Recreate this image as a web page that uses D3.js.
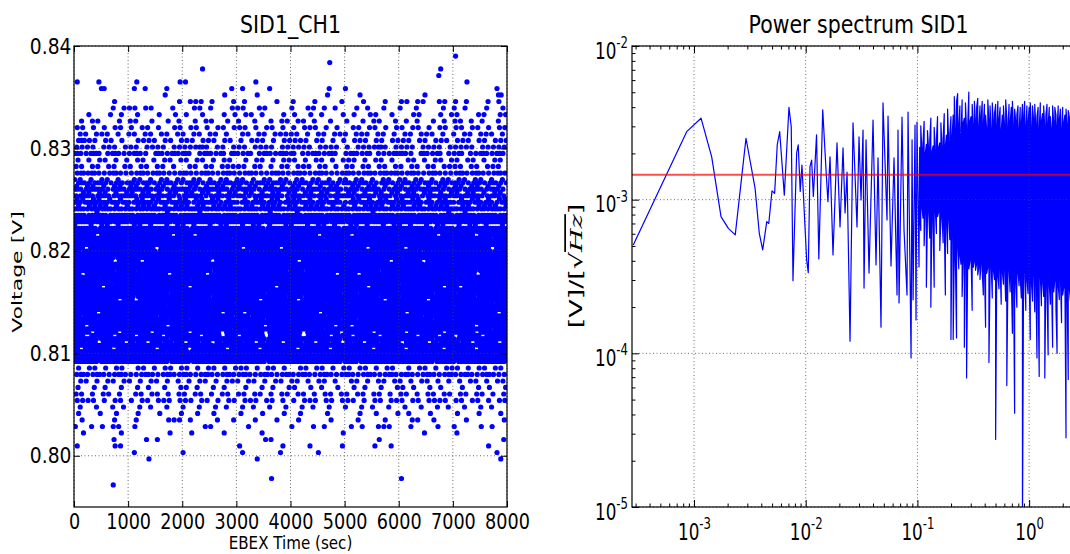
<!DOCTYPE html>
<html>
<head>
<meta charset="utf-8">
<script src="https://cdn.jsdelivr.net/npm/d3@7"></script>
<style>
  body { margin: 0; background: #fff; }
  text { font-family: "DejaVu Sans", sans-serif; fill: #000; }
</style>
</head>
<body>
<div id="chart"></div>
<script>
// ---------- left panel data: quantised voltage levels and samples per 100 s bin ----------
var binSec = 100;
var xTicks = [0, 1000, 2000, 3000, 4000, 5000, 6000, 7000, 8000];
var yTicks = [0.80, 0.81, 0.82, 0.83, 0.84];

// sparse rows above the dense band
var topLevels = [0.83902, 0.83839, 0.83776, 0.83712, 0.83649, 0.83585, 0.83522, 0.83458, 0.83395, 0.83331,
                 0.83268, 0.83204, 0.83141, 0.83078, 0.83014, 0.82951, 0.82887, 0.82824, 0.82760];
var topCounts = [
  "0000000000 0000000000 0000000000 0000000000 0000000000 0000000000 0000000000 1000000000",
  "0000000000 0000000000 0000000000 0000000000 0000000100 0000000000 0000000000 0000000000",
  "0000000000 0000000000 0001000000 0000000000 0000000000 0000000000 0000000100 0000000000",
  "0000000000 0000000000 0000000000 0000000000 0000000000 0000000000 0000000100 0000000000",
  "1000100000 0100000001 1000000000 0001000000 0000000000 0000000000 0000000000 0010000000",
  "0000020000 0101000100 0000000001 0100001000 0000000100 1000000000 0000000000 0000000010",
  "0000000000 0000001000 0000000100 0001000000 0000001000 0010000000 0000100000 0000000020",
  "0000000100 0000000001 0111010001 0100000100 1000100001 0001000100 1101100110 1010001010",
  "0000000101 1101100010 0011010001 1100110000 1001101010 0010100100 1001000010 1010001001",
  "0010001010 0100010010 1001000101 0110100010 1001010001 0100110010 0011000101 1000110011",
  "0101100010 1100100101 0010110010 1001001011 0110100100 1001011001 0101001010 1101010010",
  "1101010110 1011010011 0110101101 1101011010 1011101010 0110110101 1011010110 1101101011",
  "0110111010 1101101101 1011011010 0110110111 1101011011 1011101101 0110111010 1011011101",
  "1211011010 0111101101 1101110110 1011101011 1110110101 0111011011 1101101110 1110110111",
  "1111011101 1101111011 1112101101 1101111011 1111011110 1011112101 1110111101 1111011111",
  "2112201211 1211021121 2101211202 1120121121 2011211210 1211201112 2110211201 1201121121",
  "1010110101 0110101101 1011010110 0101101011 1010110101 1101011010 0110101101 1011010110",
  "1101101101 1011011010 0110110111 1101101011 0111011010 1101101101 1011011011 1101101110",
  "1212111211 1121121111 2111211121 1121111211 1211121111 2111211212 1121112111 1211211121"
];

// dense band (half-step levels)
var full1 = "2222122222 2222222122 2122222222 2222212222 2222222221 2212222222 2222221222 1222222222";
var full2 = "2222222122 2122222222 2222212222 2222222221 2212222222 2222221222 1222222222 2222122222";
var full3 = "2122222222 2222212222 2222222221 2212222222 2222221222 1222222222 2222122222 2222222122";
var bandLevels = [0.82697, 0.82665, 0.82633, 0.82602, 0.82570, 0.82538, 0.82507, 0.82475, 0.82443, 0.82411,
                  0.82380, 0.82348, 0.82316, 0.82285, 0.82253, 0.82221, 0.82189, 0.82158, 0.82126, 0.82094,
                  0.82063, 0.82031, 0.81999, 0.81967, 0.81936, 0.81904, 0.81872, 0.81841, 0.81809, 0.81777,
                  0.81745, 0.81714, 0.81682, 0.81650, 0.81619, 0.81587, 0.81555, 0.81523, 0.81492, 0.81460,
                  0.81428, 0.81397, 0.81365, 0.81333, 0.81301, 0.81270, 0.81238, 0.81206, 0.81175, 0.81143,
                  0.81111, 0.81079, 0.81048, 0.81016, 0.80984, 0.80953, 0.80921];
var bandCounts = [
  "1101011010 0110101101 1011010110 1101011011 0110110101 1011010110 1101101011 0110110101",
  "1211211121 2112111211 1211121121 2111211211 1121112111 2112111211 1211121121 2111211211",
  "1011010110 1101011010 0110101101 1011011010 1101010110 0110110101 1011010110 1101101010",
  "2112211121 1212121112 2111221211 1221112121 2111211221 1211221112 1121212111 2112211211",
  "0110110101 1011010110 1101101011 0110101101 1011011010 1101011011 0110110101 1011010110",
  "1221121122 2112121211 1221112121 2111221211 1212121122 2112211211 1221112121 2121211211",
  "1101101010 0110110101 1011011010 0101101101 1101011010 0110101101 1011010110 0101101011",
  "2122121212 1222112121 2112221122 1212212112 2122121221 1212212121 2212121122 1221212112",
  "1011110101 0111101011 1011011110 0110111101 1011110101 0101111011 1011011110 0110111101",
  "2212122121 2121221212 1221212122 2122121221 2212122121 2121221212 1221212122 2122121221",
  "0000100000 0000000100 0001000000 0000001000 0100000000 0000010000 0000000001 0010000000",
  "2212221222 2122212221 2221222122 1222122212 2212221222 2122212221 2221222122 1222122212",
  "2122212221 2212221222 1222122212 2221222122 2122212221 2212221222 1222122212 2221222122",
  "2221222122 1222122212 2212221222 2122212221 2221222122 1222122212 2212221222 2122212221",
  "1001011010 0110100101 1010010110 0101101001 1001011010 0110100101 1010010110 0101101001",
  full1, full2,
  "2222022222 2222222202 2202222222 2222222222 2222202222 2022222222 2222222022 2222022222",
  full3, full1, full2,
  "2202222222 2222202222 2222222222 2022222202 2222222222 2222022222 2022222222 2222222022",
  full3, full1, full2,
  "2222222022 2202222222 2222202222 2222222222 2022222222 2222222202 2222022222 2222222222",
  full3, full1, full2,
  "2022222222 2222222022 2222022222 2222222222 2222222202 2202222222 2222222222 2222022222",
  full3, full1, full2,
  "2222202222 2222222222 2022222222 2222222022 2222222222 2222022222 2222222202 2022222222",
  full3, full1, full2,
  "2222222202 2022222222 2222222222 2222022222 2022222222 2222222022 2222202222 2222222222",
  full3, full1, full2,
  "2222022222 2222222222 2222222022 2022222222 2222202222 2222222222 2022222222 2222222202",
  full3, full1, full2,
  "2202222222 2222222022 2222222222 2222202222 2222222202 2022222222 2222222222 2222022222",
  full3,
  "2220222202 2222022222 2022222022 2222202222 2202222220 2222202222 2022222202 2222022222",
  "2102212021 2021220212 1220212022 0212202122 2102212021 2021220212 1220212022 0212202122",
  full1,
  "2212022120 2120221212 0221202122 2120212202 2212022120 2120221212 0221202122 2120212202",
  full2,
  "2022212022 2221202221 2022212202 2212022212 2022212022 2221202221 2022212202 2212022212",
  full1, full2, full3, full1
];

// sparse rows below the dense band
var lowLevels = [0.80857, 0.80794, 0.80730, 0.80667, 0.80603, 0.80540, 0.80476, 0.80413, 0.80350, 0.80286,
                 0.80223, 0.80159, 0.80096, 0.80032, 0.79969, 0.79778, 0.79715];
var lowCounts = [
  "1011010110 0110101101 1010110101 1101011010 0110110101 1011010110 0101101011 1010110110",
  "1211211121 1112111211 2111211121 1211121112 1121112111 2111211121 1211121112 1121112111",
  "0110101101 1010110101 0101101011 1011010110 1101011010 0110101101 1010110101 0101101011",
  "1001010010 0101001001 1010010100 0100101001 1001010010 0101001001 1010010100 0100101001",
  "1101011010 0110110101 1011010110 1101101011 0110101101 1011011010 1101011011 0110110101",
  "1111010110 1011011101 1101101011 0111011010 1011101101 1101011011 1011011110 1101101011",
  "0100100101 0010100100 1001001010 0101001001 0010100100 1001010010 0100100101 0010010100",
  "1000100100 0100010001 0010010000 1000100010 0100001000 0010010001 0100010000 1000100010",
  "0100000100 0100000111 0100001001 0001000100 0100000100 0010000100 0011001000 0010000001",
  "1001010110 0100000000 0000110000 0010000000 1000101000 0101001110 0010000100 1000010100",
  "0100000010 0000000100 0100000100 0000100000 0000000001 0000000000 0000100000 1000000000",
  "0000000100 0001010000 0000000000 0000011000 0000000000 0000001000 0000000000 0000000001",
  "1000000110 0000000000 0000000000 1000000010 0001000001 0000010010 0000000000 0000001000",
  "0000000000 0100000000 1000000000 0100000010 0000010000 0000000000 0000000000 0000000010",
  "0000000000 0001000000 0000000000 0001000000 0000000000 0000000000 0000000000 0000000010",
  "0000000000 0000000000 0000000000 0000001000 0000000000 0000000000 1000000000 0000000000",
  "0000000100 0000000000 0000000000 0000000000 0000000000 0000000000 0000000000 0000000000"
];
// where the samples sit inside a 100 s bin, cycled row by row
var subBinPhase = [0.5, 0.25, 0.75, 0.4, 0.6, 0.15, 0.85];

// ---------- right panel data: amplitude spectrum ----------
// resolved low-frequency part, [Hz] and [V/sqrt(Hz)]
var specFreq = [2.86e-4, 8.6e-4, 1.156e-3, 1.44e-3, 1.745e-3, 2.03e-3, 2.34e-3, 2.92e-3, 3.52e-3, 3.84e-3,
                4.12e-3, 4.48e-3, 4.67e-3, 4.99e-3, 5.27e-3, 5.56e-3, 5.85e-3, 6.43e-3, 7.08e-3, 7.42e-3,
                7.69e-3, 8.30e-3, 8.57e-3, 8.93e-3, 9.25e-3, 1.019e-2, 1.054e-2, 1.092e-2, 1.13e-2, 1.17e-2,
                1.25e-2, 1.31e-2, 1.42e-2, 1.52e-2, 1.58e-2, 1.65e-2, 0.01755, 0.01906, 0.02028, 0.02158,
                0.02249, 0.02344, 0.02493, 0.02651, 0.02878, 0.03000, 0.03127, 0.03259, 0.03327, 0.03467,
                0.03687, 0.04005, 0.04259, 0.04439, 0.04720, 0.04919, 0.05343, 0.05455, 0.05801, 0.06174,
                0.06566, 0.06700, 0.06845, 0.07277, 0.07586, 0.08068, 0.08240, 0.08770, 0.08953, 0.09140,
                0.09517, 0.09712, 0.09910, 0.1033];
var specAmp = [5.07e-4, 2.77e-3, 3.39e-3, 1.9e-3, 7.75e-4, 6.5e-4, 5.9e-4, 2.51e-3, 1.19e-3, 6.04e-4,
               4.71e-4, 7.2e-4, 7.0e-4, 1.14e-3, 1.10e-3, 2.27e-3, 2.77e-3, 1.07e-3, 3.99e-3, 2.99e-3,
               2.97e-4, 2.02e-3, 2.27e-3, 1.13e-3, 1.68e-3, 4.06e-4, 3.35e-4, 1.64e-3, 1.81e-3, 1.05e-3,
               2.64e-3, 4.11e-4, 3.84e-3, 1.56e-3, 9.7e-4, 1.9e-3, 4.37e-4, 2.34e-3, 6.64e-4, 2.17e-3,
               8.20e-4, 1.51e-3, 1.20e-4, 3.16e-3, 6.64e-4, 2.56e-3, 9.96e-4, 2.84e-3, 2.66e-4, 2.45e-3,
               3.33e-4, 3.30e-3, 3.76e-4, 1.87e-3, 1.48e-4, 4.26e-3, 7.38e-4, 3.50e-3, 3.70e-4, 1.87e-3,
               2.40e-4, 2.84e-3, 2.13e-4, 3.45e-3, 6.35e-4, 2.40e-4, 3.72e-3, 9.33e-5, 2.45e-3, 2.23e-4,
               3.06e-3, 1.65e-4, 3.20e-3, 3.65e-4];

// unresolved high-frequency part: max / min per narrow band, log10 units
var hfLogFreq = [-0.98,-0.97,-0.96,-0.95,-0.94,-0.93,-0.92,-0.91,-0.90,-0.89,
                 -0.88,-0.87,-0.86,-0.85,-0.84,-0.83,-0.82,-0.81,-0.80,-0.79,
                 -0.78,-0.77,-0.76,-0.75,-0.74,-0.73,-0.72,-0.71,-0.70,-0.69,
                 -0.68,-0.67,-0.66,-0.65,-0.64,-0.63,-0.62,-0.61,-0.60,-0.59,
                 -0.58,-0.57,-0.56,-0.55,-0.54,-0.53,-0.52,-0.51,-0.50,-0.49,
                 -0.48,-0.47,-0.46,-0.45,-0.44,-0.43,-0.42,-0.41,-0.40,-0.39,
                 -0.38,-0.37,-0.36,-0.35,-0.34,-0.33,-0.32,-0.31,-0.30,-0.29,
                 -0.28,-0.27,-0.26,-0.25,-0.24,-0.23,-0.22,-0.21,-0.20,-0.19,
                 -0.18,-0.17,-0.16,-0.15,-0.14,-0.13,-0.12,-0.11,-0.10,-0.09,
                 -0.08,-0.07,-0.06,-0.05,-0.04,-0.03,-0.02,-0.01,0.00,0.01,
                 0.02,0.03,0.04,0.05,0.06,0.07,0.08,0.09,0.10,0.11,
                 0.12,0.13,0.14,0.15,0.16,0.17,0.18,0.19,0.20,0.21,
                 0.22,0.23,0.24,0.25,0.26,0.27,0.28,0.29,0.30,0.31,
                 0.32,0.33,0.34,0.35,0.36,0.37];
var hfLogHi = [-2.66,-2.52,-2.68,-2.63,-2.49,-2.70,-2.64,-2.55,-2.67,-2.62,
               -2.47,-2.69,-2.65,-2.53,-2.68,-2.61,-2.46,-2.66,-2.63,-2.50,
               -2.67,-2.60,-2.44,-2.65,-2.58,-2.41,-2.63,-2.57,-2.46,-2.60,
               -2.45,-2.33,-2.56,-2.36,-2.31,-2.52,-2.39,-2.58,-2.35,-2.50,
               -2.47,-2.37,-2.55,-2.52,-2.30,-2.49,-2.46,-2.38,-2.52,-2.36,
               -2.50,-2.40,-2.34,-2.53,-2.39,-2.47,-2.36,-2.51,-2.38,-2.45,
               -2.54,-2.35,-2.49,-2.39,-2.55,-2.37,-2.50,-2.44,-2.38,-2.53,
               -2.36,-2.48,-2.40,-2.55,-2.45,-2.39,-2.52,-2.35,-2.47,-2.54,
               -2.38,-2.50,-2.40,-2.36,-2.53,-2.41,-2.49,-2.45,-2.39,-2.55,
               -2.40,-2.51,-2.38,-2.47,-2.36,-2.53,-2.39,-2.50,-2.40,-2.37,
               -2.54,-2.39,-2.48,-2.38,-2.52,-2.46,-2.40,-2.55,-2.37,-2.49,
               -2.44,-2.39,-2.53,-2.45,-2.38,-2.51,-2.40,-2.46,-2.54,-2.39,
               -2.50,-2.40,-2.45,-2.53,-2.39,-2.48,-2.41,-2.55,-2.40,-2.50,
               -2.45,-2.41,-2.52,-2.42,-2.47,-2.43];
var hfLogLo = [-3.08,-3.20,-3.05,-3.12,-3.30,-3.07,-3.57,-3.10,-3.06,-3.25,
               -3.70,-3.09,-3.14,-3.57,-3.07,-3.22,-3.11,-3.08,-3.33,-3.12,
               -3.10,-3.28,-3.13,-3.62,-3.15,-3.35,-3.12,-3.26,-3.91,-3.18,
               -3.91,-3.34,-3.40,-3.90,-3.30,-3.45,-3.36,-3.42,-3.63,-3.38,
               -3.96,-3.37,-4.16,-3.41,-3.45,-3.40,-3.36,-3.72,-3.44,-3.40,
               -3.46,-3.42,-3.49,-3.44,-3.52,-3.41,-3.47,-3.62,-3.43,-3.83,
               -3.48,-3.44,-4.06,-3.50,-3.42,-3.64,-3.46,-3.52,-4.56,-3.45,
               -3.50,-3.58,-3.43,-3.68,-3.47,-3.55,-3.44,-3.66,-4.21,-3.49,
               -3.45,-3.60,-3.48,-3.87,-3.46,-4.39,-3.53,-3.70,-3.47,-3.56,
               -3.50,-3.64,-5.20,-3.49,-3.46,-3.72,-3.52,-3.61,-3.48,-3.91,
               -3.54,-3.66,-3.47,-3.73,-3.51,-4.03,-3.57,-4.15,-3.49,-3.69,
               -3.53,-3.63,-4.16,-3.50,-3.58,-4.01,-3.55,-3.68,-3.51,-3.96,
               -3.60,-3.52,-3.71,-4.00,-3.56,-3.65,-3.50,-3.80,-3.62,-3.57,
               -3.54,-4.55,-3.61,-4.17,-3.58,-3.66];
var noiseLevel = 1.45e-3;   // red reference line
var specMajorTicks = [1e-3, 1e-2, 1e-1, 1];
var ampMajorTicks = [1e-5, 1e-4, 1e-3, 1e-2];

// ---------- drawing ----------
var width = 1070, height = 554;
var svg = d3.select("#chart").append("svg")
  .attr("width", width)
  .attr("height", height);

var gridStyle = function(sel) {
  sel.attr("stroke", "#444").attr("stroke-width", 0.8).attr("stroke-dasharray", "1,2.5");
};
// the original figure is squeezed horizontally, so text is narrowed with a scale
function label(x, y, size, sx, str) {
  return svg.append("text")
    .attr("transform", "translate(" + x + "," + y + ") scale(" + sx + ",1)")
    .attr("text-anchor", "middle").attr("font-size", size).text(str);
}

// ===== left: SID1_CH1 =====
var L = {left: 74, right: 507, top: 46, bottom: 507};
var x = d3.scaleLinear().domain([0, 8000]).range([L.left, L.right]);
var y = d3.scaleLinear().domain([0.795, 0.84]).range([L.bottom, L.top]);

svg.append("clipPath").attr("id", "clipL").append("rect")
  .attr("x", L.left).attr("y", L.top)
  .attr("width", L.right - L.left).attr("height", L.bottom - L.top);

var samples = [], rowNo = 0;
function addRows(levels, counts) {
  levels.forEach(function(v, i) {
    var s = counts[i].replace(/ /g, "");
    var ph = subBinPhase[rowNo++ % subBinPhase.length];
    for (var b = 0; b < s.length && b < 80; b++) {
      var n = +s[b];
      for (var j = 0; j < n; j++) samples.push({t: b * binSec + (j + ph) * binSec / n, v: v});
    }
  });
}
addRows(topLevels, topCounts);
addRows(bandLevels, bandCounts);
addRows(lowLevels, lowCounts);

svg.append("g").attr("clip-path", "url(#clipL)")
  .selectAll("circle")
  .data(samples)
  .join("circle")
    .attr("cx", d => x(d.t))
    .attr("cy", d => y(d.v))
    .attr("r", 2.6)
    .attr("fill", "#0000ff");

// grid on top of the data (matplotlib classic)
svg.append("g").selectAll("line").data(xTicks).join("line")
  .attr("x1", d => x(d)).attr("x2", d => x(d)).attr("y1", L.top).attr("y2", L.bottom)
  .call(gridStyle);
svg.append("g").selectAll("line").data(yTicks).join("line")
  .attr("y1", d => y(d)).attr("y2", d => y(d)).attr("x1", L.left).attr("x2", L.right)
  .call(gridStyle);

var axL = svg.append("g").attr("transform", "translate(0," + L.bottom + ")")
  .call(d3.axisBottom(x).tickValues(xTicks).tickFormat(d3.format("d"))
    .tickSizeInner(-6).tickSizeOuter(0).tickPadding(6));
var ayL = svg.append("g").attr("transform", "translate(" + L.left + ",0)")
  .call(d3.axisLeft(y).tickValues(yTicks).tickFormat(d3.format(".2f"))
    .tickSizeInner(-6).tickSizeOuter(0).tickPadding(3));
svg.append("g").attr("transform", "translate(0," + L.top + ")")
  .call(d3.axisTop(x).tickValues(xTicks).tickFormat("").tickSizeInner(-6).tickSizeOuter(0));
svg.append("g").attr("transform", "translate(" + L.right + ",0)")
  .call(d3.axisRight(y).tickValues(yTicks).tickFormat("").tickSizeInner(-6).tickSizeOuter(0));
axL.selectAll("text").attr("font-size", 22).attr("font-family", null).attr("transform", "scale(0.8,1)");
ayL.selectAll("text").attr("font-size", 22).attr("font-family", null).attr("transform", "scale(0.85,1)");
svg.selectAll(".domain").remove();

svg.append("rect").attr("x", L.left).attr("y", L.top)
  .attr("width", L.right - L.left).attr("height", L.bottom - L.top)
  .attr("fill", "none").attr("stroke", "#000").attr("stroke-width", 1.2);

label((L.left + L.right) / 2, 33, 25, 0.82, "SID1_CH1");
label((L.left + L.right) / 2, 549, 18, 0.84, "EBEX Time (sec)");
svg.append("text")
  .attr("transform", "translate(22,272) scale(0.62,1) rotate(-90)")
  .attr("text-anchor", "middle").attr("font-size", 22).text("Voltage [V]");

// ===== right: Power spectrum SID1 =====
var R = {left: 632, right: 1085, top: 46, bottom: 507};
var fx = d3.scaleLog().domain([2.786e-4, 3.162]).range([R.left, R.right]);
var fy = d3.scaleLog().domain([1e-5, 1e-2]).range([R.bottom, R.top]);

svg.append("clipPath").attr("id", "clipR").append("rect")
  .attr("x", R.left).attr("y", R.top)
  .attr("width", R.right - R.left).attr("height", R.bottom - R.top);

var spec = specFreq.map((f, i) => ({f: f, a: specAmp[i]}));
hfLogFreq.forEach(function(lf, i) {
  var hi = {f: Math.pow(10, lf), a: Math.pow(10, hfLogHi[i])};
  var lo = {f: Math.pow(10, lf), a: Math.pow(10, hfLogLo[i])};
  if (i % 2 === 0) spec.push(hi, lo); else spec.push(lo, hi);
});

svg.append("path").datum(spec)
  .attr("clip-path", "url(#clipR)")
  .attr("fill", "none")
  .attr("stroke", "#0000ff")
  .attr("stroke-width", 1.2)
  .attr("stroke-linejoin", "round")
  .attr("d", d3.line().x(d => fx(d.f)).y(d => fy(d.a)));

svg.append("line").attr("clip-path", "url(#clipR)")
  .attr("x1", R.left).attr("x2", R.right)
  .attr("y1", fy(noiseLevel)).attr("y2", fy(noiseLevel))
  .attr("stroke", "#ff0000").attr("stroke-opacity", 0.7).attr("stroke-width", 2);

svg.append("g").selectAll("line").data(specMajorTicks).join("line")
  .attr("x1", d => fx(d)).attr("x2", d => fx(d)).attr("y1", R.top).attr("y2", R.bottom)
  .call(gridStyle);
svg.append("g").selectAll("line").data(ampMajorTicks).join("line")
  .attr("y1", d => fy(d)).attr("y2", d => fy(d)).attr("x1", R.left).attr("x2", R.right)
  .call(gridStyle);

// minor tick positions 2..9 x decade
function minorTicks(dom) {
  var out = [];
  for (var e = Math.floor(Math.log10(dom[0])); e <= Math.ceil(Math.log10(dom[1])); e++)
    for (var k = 2; k <= 9; k++) {
      var v = k * Math.pow(10, e);
      if (v > dom[0] && v < dom[1]) out.push(v);
    }
  return out;
}
var fxMinor = minorTicks(fx.domain()), fyMinor = minorTicks(fy.domain());

function logAxis(axisFn, scale, major, minor, pos, labelPos) {
  var g = svg.append("g").attr("transform", pos);
  g.call(axisFn(scale).tickValues(minor).tickFormat("").tickSizeInner(-3.5).tickSizeOuter(0));
  var gm = svg.append("g").attr("transform", pos);
  gm.call(axisFn(scale).tickValues(major).tickSizeInner(-7).tickSizeOuter(0)
    .tickFormat(labelPos ? (d => d) : ""));
  if (labelPos) {
    gm.selectAll(".tick text").each(function(d) {
      var t = d3.select(this).text(null)
        .attr("font-size", 23).attr("font-family", null)
        .attr("x", labelPos.x).attr("y", labelPos.y).attr("dy", null)
        .attr("text-anchor", labelPos.anchor)
        .attr("transform", "scale(0.73,1)");
      t.append("tspan").text("10");
      t.append("tspan").attr("dy", -10.5).attr("font-size", 16).text(Math.round(Math.log10(d)));
    });
  }
  g.select(".domain").remove();
  gm.select(".domain").remove();
}
logAxis(d3.axisBottom, fx, specMajorTicks, fxMinor, "translate(0," + R.bottom + ")", {x: 0, y: 33, anchor: "middle"});
logAxis(d3.axisTop, fx, specMajorTicks, fxMinor, "translate(0," + R.top + ")", null);
logAxis(d3.axisLeft, fy, ampMajorTicks, fyMinor, "translate(" + R.left + ",0)", {x: -5.5, y: 12, anchor: "end"});
logAxis(d3.axisRight, fy, ampMajorTicks, fyMinor, "translate(" + R.right + ",0)", null);

svg.append("rect").attr("x", R.left).attr("y", R.top)
  .attr("width", R.right - R.left).attr("height", R.bottom - R.top)
  .attr("fill", "none").attr("stroke", "#000").attr("stroke-width", 1.2);

label((R.left + R.right) / 2, 33, 25, 0.82, "Power spectrum SID1");

var yl = svg.append("text")
  .attr("transform", "translate(582,266) scale(0.65,1) rotate(-90)")
  .attr("text-anchor", "middle").attr("font-size", 27);
yl.append("tspan").text("[V]/[");
yl.append("tspan").text("\u221A");
yl.append("tspan").attr("font-family", "DejaVu Serif").attr("font-style", "italic")
  .style("text-decoration", "overline").text("Hz");
yl.append("tspan").text("]");
</script>
</body>
</html>
